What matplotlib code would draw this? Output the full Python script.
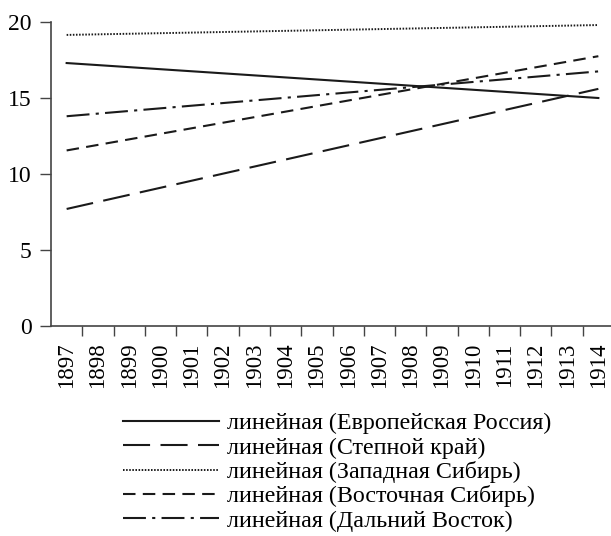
import matplotlib
matplotlib.use("Agg")
import matplotlib.pyplot as plt
import numpy as np

plt.rcParams['font.family'] = ['Liberation Serif', 'DejaVu Serif']

years = [str(y) for y in range(1897, 1915)]
trend_ends = ["1897", "1914"]

euro_russia = [17.3, 15.0]
steppe = [7.7, 15.6]
west_siberia = [19.15, 19.8]
east_siberia = [11.55, 17.75]
far_east = [13.8, 16.75]

labels = [
    "линейная (Европейская Россия)",
    "линейная (Степной край)",
    "линейная (Западная Сибирь)",
    "линейная (Восточная Сибирь)",
    "линейная (Дальний Восток)",
]

fig = plt.figure(figsize=(6.11, 5.36), dpi=100)
ax = fig.add_axes([51/611, 210/536, 563/611, 304/536])

x_idx = [years.index(t) for t in trend_ends]
c = '#1a1a1a'
lw = 1.5
l1, = ax.plot(x_idx, euro_russia, color=c, lw=lw, linestyle='-')
l2, = ax.plot(x_idx, steppe, color=c, lw=lw, linestyle=(0, (13, 5)))
l3, = ax.plot(x_idx, west_siberia, color=c, lw=1.4, linestyle=(0, (0.8, 0.8)))
l4, = ax.plot(x_idx, east_siberia, color=c, lw=lw, linestyle=(0, (6, 3.5)))
l5, = ax.plot(x_idx, far_east, color=c, lw=lw, linestyle=(0, (11, 3, 1.5, 3)))

ax.set_xlim(-0.5, len(years) - 0.5)
ax.set_ylim(0, 20)
ax.set_yticks([0, 5, 10, 15, 20])
ax.set_xticks(range(len(years)))
ax.set_xticklabels(years, rotation=90, fontsize=16.5)
ax.set_xticks(np.arange(0.5, len(years) - 0.5, 1.0), minor=True)
ax.tick_params(axis='x', which='major', length=0, pad=12)
ax.tick_params(axis='x', which='minor', length=7, width=1, color='#444')
ax.tick_params(axis='y', length=8, width=1, color='#444', labelsize=17, pad=6)
for s in ['top', 'right']:
    ax.spines[s].set_visible(False)
for s in ['left', 'bottom']:
    ax.spines[s].set_color('#444')
    ax.spines[s].set_linewidth(1.2)

leg = fig.legend([l1, l2, l3, l4, l5], labels, loc='upper left',
                 bbox_to_anchor=(113/611, 1 - 403/536), frameon=False,
                 fontsize=17.3, handlelength=4.0, handletextpad=0.33,
                 labelspacing=0.1, borderaxespad=0)

fig.savefig("out.png", dpi=100)
